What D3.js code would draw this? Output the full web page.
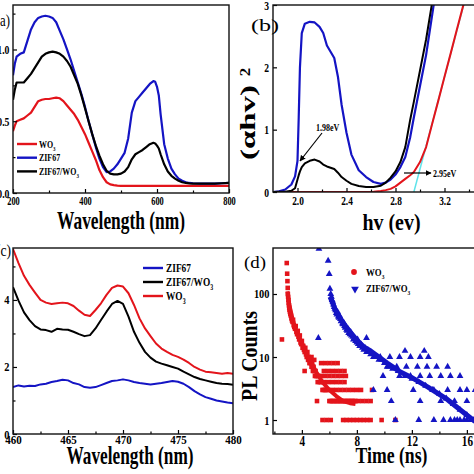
<!DOCTYPE html>
<html><head><meta charset="utf-8">
<script src="https://cdn.jsdelivr.net/npm/d3@7"></script>
<style>body{margin:0;background:#fff}svg{display:block}</style>
</head><body><svg id="chart" width="474" height="474"></svg>
<script>
// ---------- Panel (a): UV-vis absorbance ----------
const aWavelength = [200,205,210,220,230,240,250,260,270,280,290,300,310,320,330,340,350,360,370,380,390,400,410,420,430,440,450,460,470,480,490,500,510,520,530,540,550,560,570,580,590,595,600,605,610,620,630,640,650,660,670,680,690,700,720,740,760,780,800];
const aZIF67 = [0.82,0.9,0.95,0.97,0.98,1.06,1.14,1.19,1.22,1.23,1.235,1.23,1.22,1.19,1.13,1.07,1.0,0.93,0.85,0.77,0.69,0.6,0.5,0.41,0.32,0.24,0.18,0.145,0.15,0.17,0.2,0.24,0.28,0.38,0.56,0.64,0.67,0.7,0.73,0.76,0.78,0.775,0.74,0.68,0.55,0.34,0.24,0.17,0.13,0.1,0.085,0.075,0.07,0.068,0.066,0.066,0.066,0.068,0.07];
const aComposite = [0.65,0.72,0.77,0.77,0.77,0.8,0.83,0.87,0.91,0.95,0.97,0.98,0.985,0.98,0.97,0.95,0.92,0.88,0.82,0.76,0.68,0.59,0.5,0.41,0.33,0.26,0.2,0.155,0.135,0.13,0.13,0.135,0.15,0.18,0.235,0.27,0.285,0.3,0.32,0.34,0.35,0.345,0.33,0.31,0.27,0.2,0.15,0.12,0.1,0.085,0.075,0.07,0.067,0.065,0.065,0.065,0.066,0.068,0.07];
const aWO3 = [0.43,0.47,0.5,0.51,0.52,0.54,0.56,0.6,0.64,0.65,0.655,0.655,0.66,0.665,0.66,0.64,0.61,0.58,0.55,0.51,0.46,0.41,0.35,0.29,0.23,0.16,0.11,0.075,0.06,0.055,0.052,0.05,0.05,0.05,0.05,0.05,0.05,0.05,0.05,0.05,0.05,0.05,0.05,0.05,0.05,0.05,0.05,0.05,0.05,0.05,0.05,0.05,0.05,0.05,0.05,0.05,0.05,0.05,0.05];
const aXTicks = [200,400,600,800];
const aXMinor = [300,500,700];
const aYTicks = [0,0.5,1.0];
const aYMinor = [0.25,0.75,1.25];

// ---------- Panel (b): Tauc plot ----------
const bEnergy = [1.80,1.85,1.90,1.95,1.98,2.00,2.01,2.02,2.035,2.06,2.10,2.14,2.18,2.21,2.24,2.27,2.30,2.33,2.36,2.40,2.44,2.50,2.56,2.62,2.68,2.72,2.76,2.80,2.84,2.88,2.92,2.95,3.00,3.05,3.10,3.15,3.20,3.25,3.30,3.35,3.40];
const bZIF67 = [0,0.01,0.04,0.12,0.25,0.5,1.2,2.0,2.55,2.7,2.73,2.72,2.65,2.55,2.35,2.25,2.15,1.85,1.4,0.95,0.6,0.35,0.24,0.16,0.13,0.15,0.2,0.28,0.4,0.56,0.88,1.2,1.7,2.2,2.85,3.5,4,4,4,4,4];
const bComposite = [0,0.003,0.006,0.02,0.06,0.2,0.27,0.33,0.4,0.46,0.5,0.52,0.49,0.44,0.41,0.39,0.37,0.31,0.24,0.18,0.13,0.095,0.08,0.08,0.1,0.15,0.23,0.33,0.48,0.72,1.16,1.45,1.95,2.45,3.05,3.6,4,4,4,4,4];
const bWO3 = [0,0,0,0,0,0,0,0,0,0,0,0,0,0,0,0,0,0,0,0,0,0,0,0.005,0.015,0.03,0.05,0.09,0.15,0.21,0.27,0.32,0.48,0.72,1.1,1.47,1.85,2.22,2.6,2.97,3.35];
const bTangentE = [2.95,3.37];
const bTangentV = [0,3.1];
const bXTicks = [2.0,2.4,2.8,3.2];
const bXMinor = [2.2,2.6,3.0,3.4];
const bYTicks = [0,1,2,3];

// ---------- Panel (c): PL spectra ----------
const cWavelength = [460,460.5,461,461.5,462,462.5,463,463.5,464,464.5,465,465.5,466,466.5,467,467.5,468,468.5,469,469.5,470,470.5,471,471.5,472,472.5,473,473.5,474,474.5,475,475.5,476,476.5,477,477.5,478,478.5,479,479.5,480];
const cWO3 = [5.52,5.1,4.72,4.45,4.22,4.0,3.92,3.88,3.9,3.92,3.9,3.82,3.68,3.56,3.52,3.7,3.9,4.15,4.36,4.43,4.4,4.2,3.85,3.45,3.15,2.92,2.7,2.55,2.45,2.36,2.3,2.22,2.12,2.0,1.92,1.86,1.84,1.82,1.8,1.82,1.8];
const cComposite = [4.38,3.98,3.63,3.4,3.22,3.12,3.1,3.05,3.14,3.12,3.11,3.05,2.98,2.92,2.95,3.15,3.4,3.65,3.88,3.97,3.88,3.5,3.05,2.72,2.45,2.28,2.16,2.1,2.05,2.0,1.95,1.86,1.78,1.7,1.64,1.6,1.56,1.52,1.5,1.49,1.47];
const cZIF67 = [1.4,1.45,1.42,1.44,1.43,1.48,1.5,1.55,1.58,1.62,1.6,1.52,1.48,1.4,1.38,1.4,1.46,1.52,1.58,1.6,1.63,1.6,1.55,1.52,1.5,1.48,1.5,1.52,1.55,1.58,1.56,1.5,1.4,1.28,1.18,1.1,1.05,1.0,0.97,0.94,0.92];
const cXTicks = [460,465,470,475,480];
const cXMinor = [462.5,467.5,472.5,477.5];
const cYTicks = [0,2,4];
const cYMinor = [1,3,5];

// ---------- Panel (d): TRPL decay ----------
const dWO3Time = [2.55,2.9,2.93,2.95,2.97,2.98,3.0,3.02,3.04,3.06,3.08,3.1,3.13,3.16,3.2,3.24,3.28,3.32,3.36,3.4,3.45,3.5,3.55,3.6,3.65,3.7,3.75,3.8,3.85,3.9,3.95,4.0,4.05,4.1,4.15,4.2,4.25,4.3,4.35,4.4,4.45,4.5,4.55,4.6,4.65,4.7,4.75,4.8,4.85,4.9,4.95,5.0,5.05,5.1,5.15,5.2,5.3,5.4,5.5,5.6,5.7,5.8,5.9,6.0,6.1,6.2,6.3,6.4,6.5,6.6,6.7,6.8,6.9,7.0,7.1,7.2,7.3,7.4,7.5,7.6,7.7,7.8,7.9,
  4.7,4.9,5.4,5.7,6.0,6.3,6.6,
  4.2,5.6,5.9,6.2,6.5,6.8,7.1,
  5.4,5.7,6.0,6.3,6.6,6.9,7.2,
  5.6,5.9,6.2,6.5,6.8,7.1,
  6.2,6.5,6.8,7.1,7.4,7.7,8.0,8.3,9.1,
  5.1,8.1,8.4,8.7,9.0,
  5.5,5.8,6.1,7.0,7.25,7.5,7.75,8.0,8.25,8.5,8.75,9.0,9.8,10.8];
const dWO3Counts = [19,310,210,160,125,100,90,80,72,66,60,56,52,48,45,41,38,36,39,32,30,28,31,25,23,26,21,19,22,17,16,18,14,15,13,12,14,11,10,12,9,10,8,9,8,7,8,6,7,6,5,6,5,5,4,5,4,4,3,3,3,3,3,2,2,2,2,2,2,2,2,2,2,2,2,2,2,2,2,2,2,2,2,
  10,9,8,8,8,8,8,
  6,6,6,6,6,6,6,
  5,5,5,5,5,5,5,
  4,4,4,4,4,4,
  3,3,3,3,3,3,3,3,3,
  2,2,2,2,2,
  1,1,1,1,1,1,1,1,1,1,1,1,1,1];
const dCompTime = [5.24,5.91,5.99,6.04,6.1,6.15,6.2,6.25,6.3,6.35,6.4,6.45,6.5,6.55,6.6,6.65,6.7,6.75,6.8,6.85,6.9,6.95,7.0,7.05,7.1,7.15,7.2,7.25,7.3,7.35,7.4,7.5,7.55,7.6,7.7,7.75,7.8,7.9,8.0,8.05,8.1,8.2,8.3,8.4,8.5,8.6,8.7,8.8,8.9,9.0,9.2,9.4,9.6,9.8,10.0,10.3,10.6,11.0,11.5,12.0,12.5,13.0,13.5,14.0,14.5,15.0,15.5,16.0,16.5,
  5.2,8.7,11.5,12.9,
  9.7,10.4,11.1,11.9,12.6,13.2,
  10.2,10.9,11.6,12.4,13.1,13.8,14.6,
  9.9,11.1,11.9,12.6,13.3,14.1,14.8,15.5,
  9.2,10.2,12.1,13.6,14.6,15.5,16.0,16.6,
  10.5,12.6,14.1,15.1,16.0,
  10.8,12.5,13.6,14.3,14.8,15.1,15.3,15.5,15.8,16.0,16.3];
const dCompCounts = [520,337,208,121,100,90,80,75,68,62,58,55,50,47,52,44,42,45,40,37,38,34,33,35,31,29,30,27,26,28,24,23,25,22,21,19,20,18,17,19,16,15,16,14,13,14,12,13,12,11,10,10,9,9,8,7,6.5,6,5,4.5,4,3.5,3,2.6,2.2,1.8,1.45,1.2,1.0,
  20,20,12.5,12.5,
  10,10,10,10,10,10,
  7,7,7,7,7,7,7,
  5,5,5,5,5,5,5,5,
  3,3,3,3,3,3,3,3,
  2,2,2,2,2,
  1,1,1,1,1,1,1,1,1,1,1];
const dWO3FitTime = [2.95,3.1,3.3,3.5,3.8,4.0,4.3,4.6,5.0,5.5,6.0,6.5,7.0,7.5,7.9];
const dWO3FitCounts = [110,65,42,30,21,17,12,9,6,4,3,2.4,2.0,1.85,1.8];
const dCompFitTime = [6.05,6.5,7.0,7.5,8.0,8.5,9.0,9.6,10.2,11.1,12.0,13.2,14.6,15.6,16.6];
const dCompFitCounts = [90,52,35,25,18.5,14.5,12.5,10,8,5.9,4.7,3.3,2.1,1.4,0.95];
const dXTicks = [4,8,12,16];
const dXMinor = [2,6,10,14];
const dYTicks = [1,10,100];

// ---------- drawing ----------
const RED = '#e3141b', BLUE = '#1414c4', BLACK = '#000', CYAN = '#5fe3ea';
const FONT = "'Liberation Serif','Times New Roman',serif";
const svg = d3.select('#chart');
svg.append('rect').attr('width',474).attr('height',474).attr('fill','#fff');
const defs = svg.append('defs');
defs.append('marker').attr('id','arr').attr('viewBox','0 0 10 10').attr('refX',9).attr('refY',5)
  .attr('markerWidth',5).attr('markerHeight',5).attr('orient','auto-start-reverse')
  .append('path').attr('d','M0,0L10,5L0,10z').attr('fill','#000');

function txt(p, x, y, segs, o = {}) {
  const size = o.size || 12, sx = o.sx || 0.75;
  let tr = `translate(${x},${y}) scale(${sx},1)`;
  if (o.rot) tr += ` rotate(${o.rot})`;
  const t = p.append('text').attr('transform', tr)
    .attr('font-family', FONT).attr('font-size', size)
    .attr('font-weight', o.weight || 'bold').attr('text-anchor', o.anchor || 'start')
    .attr('fill', o.fill || '#000');
  if (typeof segs === 'string') segs = [[segs, '']];
  let shift = 0;
  segs.forEach(([s, k]) => {
    const ts = t.append('tspan').text(s);
    const target = k === 'sub' ? size * 0.3 : k === 'sup' ? -size * 0.45 : 0;
    if (target - shift !== 0) ts.attr('dy', target - shift);
    shift = target;
    if (k) ts.attr('font-size', size * 0.62);
  });
  if (o.len) t.attr('textLength', o.rot ? o.len : o.len / sx).attr('lengthAdjust', 'spacingAndGlyphs');
  return t;
}

function panel(id, x, y, xTicks, xMinor, yTicks, yMinor, fmtX, fmtY, st) {
  const [x0, x1] = x.range(), [y0, y1] = y.range();
  const g = svg.append('g');
  defs.append('clipPath').attr('id', 'clip' + id).append('rect')
    .attr('x', x0).attr('y', y1).attr('width', x1 - x0).attr('height', y0 - y1);
  const plot = g.append('g').attr('clip-path', `url(#clip${id})`);
  const xa = g.append('g').attr('transform', `translate(0,${y0})`)
    .call(d3.axisBottom(x).tickValues(xTicks).tickSize(-4).tickFormat(fmtX));
  const xm = g.append('g').attr('transform', `translate(0,${y0})`)
    .call(d3.axisBottom(x).tickValues(xMinor).tickSize(-2.5).tickFormat(''));
  const ya = g.append('g').attr('transform', `translate(${x0},0)`)
    .call(d3.axisLeft(y).tickValues(yTicks).tickSize(-4).tickFormat(fmtY));
  const ym = g.append('g').attr('transform', `translate(${x0},0)`)
    .call(d3.axisLeft(y).tickValues(yMinor).tickSize(-2.5).tickFormat(''));
  [xa, xm, ya, ym].forEach(a => { a.select('.domain').remove(); a.selectAll('line').attr('stroke', '#000').attr('stroke-width', 1.2); });
  xa.selectAll('text').attr('x', null).attr('y', null).attr('dy', null)
    .attr('transform', `translate(0,${st.xdy}) scale(${st.xsx},1)`)
    .attr('font-family', FONT).attr('font-weight', 'bold').attr('font-size', st.xsize).attr('fill', '#000');
  ya.selectAll('text').attr('x', null).attr('y', null).attr('dy', null)
    .attr('transform', `translate(${-st.ydx},${st.ydy}) scale(${st.ysx},1)`)
    .attr('font-family', FONT).attr('font-weight', 'bold').attr('font-size', st.ysize).attr('fill', '#000');
  g.append('rect').attr('x', x0).attr('y', y1).attr('width', x1 - x0).attr('height', y0 - y1)
    .attr('fill', 'none').attr('stroke', '#111').attr('stroke-width', 1.4);
  return { g, plot };
}

function drawLine(plot, xs, ys, x, y, color, w) {
  plot.append('path').datum(xs.map((v, i) => [v, ys[i]]))
    .attr('d', d3.line().x(d => x(d[0])).y(d => y(d[1])))
    .attr('fill', 'none').attr('stroke', color).attr('stroke-width', w).attr('stroke-linejoin', 'round');
}

// ----- (a)
{
  const x = d3.scaleLinear().domain([200, 800]).range([13, 229]);
  const y = d3.scaleLinear().domain([0, 1.31]).range([193, 5]);
  const { g, plot } = panel('a', x, y, aXTicks, aXMinor, aYTicks, aYMinor, d3.format('d'), d3.format('.1f'),
    { xdy: 12, xsx: 0.7, xsize: 12, ydx: 3.5, ydy: 4, ysx: 0.75, ysize: 13 });
  drawLine(plot, aWavelength, aWO3, x, y, RED, 2.2);
  drawLine(plot, aWavelength, aZIF67, x, y, BLUE, 2.2);
  drawLine(plot, aWavelength, aComposite, x, y, BLACK, 2.2);
  const leg = [[RED, [[' WO', ''], ['3', 'sub']]], [BLUE, 'ZIF67'], [BLACK, [['ZIF67/WO', ''], ['3', 'sub']]]];
  leg.forEach((l, i) => {
    const ly = 144 + i * 13.7;
    g.append('line').attr('x1', 17).attr('x2', 37).attr('y1', ly).attr('y2', ly).attr('stroke', l[0]).attr('stroke-width', 2.4);
    txt(g, 39, ly + 3.5, l[1], { size: 11, sx: 0.72 });
  });
  txt(g, 121, 229, 'Wavelength (nm)', { size: 25, sx: 0.7, anchor: 'middle', len: 128 });
  txt(g, 10, 26, '(a)', { size: 17, sx: 0.75, anchor: 'end', weight: 'normal' });
}

// ----- (b)
{
  const x = d3.scaleLinear().domain([1.8, 3.5]).range([273, 481.25]);
  const y = d3.scaleLinear().domain([0, 3]).range([192, 5]);
  const { g, plot } = panel('b', x, y, bXTicks, bXMinor, bYTicks, [], d3.format('.1f'), d3.format('d'),
    { xdy: 13, xsx: 0.78, xsize: 12, ydx: 4, ydy: 4, ysx: 0.8, ysize: 12 });
  drawLine(plot, bTangentE, bTangentV, x, y, CYAN, 1.5);
  drawLine(plot, bEnergy, bWO3, x, y, RED, 2);
  drawLine(plot, bEnergy, bZIF67, x, y, BLUE, 2.2);
  drawLine(plot, bEnergy, bComposite, x, y, BLACK, 2);
  g.append('line').attr('x1', 322).attr('y1', 133).attr('x2', 300).attr('y2', 161)
    .attr('stroke', '#000').attr('stroke-width', 1.2).attr('marker-end', 'url(#arr)');
  txt(g, 316, 131, '1.98eV', { size: 10, sx: 0.8 });
  g.append('line').attr('x1', 404).attr('y1', 173).attr('x2', 431).attr('y2', 173)
    .attr('stroke', '#000').attr('stroke-width', 1.2).attr('marker-end', 'url(#arr)');
  txt(g, 433, 177, '2.95eV', { size: 10, sx: 0.8 });
  txt(g, 391.5, 230, 'hv (ev)', { size: 23, sx: 0.75, anchor: 'middle', len: 58 });
  txt(g, 255, 122.5, '(αhv)', { size: 26, sx: 0.8, anchor: 'middle', rot: -90, len: 75 });
  txt(g, 250, 72, '2', { size: 17, sx: 0.8, anchor: 'middle', rot: -90 });
  txt(g, 251, 31, '(b)', { size: 17, sx: 1, weight: 'normal', len: 28 });
}

// ----- (c)
{
  const x = d3.scaleLinear().domain([460, 480]).range([13, 233]);
  const y = d3.scaleLinear().domain([0, 5.55]).range([434, 248]);
  const { g, plot } = panel('c', x, y, cXTicks, cXMinor, cYTicks, cYMinor, d3.format('d'), d3.format('d'),
    { xdy: 10, xsx: 0.88, xsize: 12.5, ydx: 3.5, ydy: 4, ysx: 0.8, ysize: 13 });
  drawLine(plot, cWavelength, cZIF67, x, y, BLUE, 2);
  drawLine(plot, cWavelength, cComposite, x, y, BLACK, 2);
  drawLine(plot, cWavelength, cWO3, x, y, RED, 2);
  const leg = [[BLUE, 'ZIF67'], [BLACK, [['ZIF67/WO', ''], ['3', 'sub']]], [RED, [['WO', ''], ['3', 'sub']]]];
  leg.forEach((l, i) => {
    const ly = 268 + i * 14;
    g.append('line').attr('x1', 143).attr('x2', 163).attr('y1', ly).attr('y2', ly).attr('stroke', l[0]).attr('stroke-width', 2.4);
    txt(g, 166, ly + 4, l[1], { size: 12, sx: 0.78 });
  });
  txt(g, 130, 464, 'Wavelength (nm)', { size: 25, sx: 0.7, anchor: 'middle', len: 127 });
  txt(g, 11, 256, '(c)', { size: 17, sx: 0.8, anchor: 'end', weight: 'normal' });
}

// ----- (d)
{
  const x = d3.scaleLinear().domain([1.9, 17.1]).range([273, 482]);
  const y = d3.scaleLog().domain([0.6, 537]).range([434, 248]);
  const { g, plot } = panel('d', x, y, dXTicks, dXMinor, dYTicks, [], d3.format('d'), d3.format('d'),
    { xdy: 11.5, xsx: 0.8, xsize: 14, ydx: 3.5, ydy: 4, ysx: 0.8, ysize: 13 });
  const sq = d3.symbol(d3.symbolSquare, 21)();
  const tri = d3.symbol(d3.symbolTriangle, 20)();
  plot.append('g').selectAll('path').data(dWO3Time.map((t, i) => [t, dWO3Counts[i]])).join('path')
    .attr('d', sq).attr('transform', d => `translate(${x(d[0])},${y(d[1])})`).attr('fill', RED);
  plot.append('g').selectAll('path').data(dCompTime.map((t, i) => [t, dCompCounts[i]])).join('path')
    .attr('d', tri).attr('transform', d => `translate(${x(d[0])},${y(d[1])})`).attr('fill', BLUE);
  drawLine(plot, dWO3FitTime, dWO3FitCounts, x, y, RED, 4);
  drawLine(plot, dCompFitTime, dCompFitCounts, x, y, BLUE, 5);
  g.append('path').attr('d', d3.symbol(d3.symbolCircle, 26)()).attr('transform', 'translate(354,272)').attr('fill', RED);
  g.append('path').attr('d', d3.symbol(d3.symbolTriangle, 26)()).attr('transform', 'translate(355,289) rotate(180)').attr('fill', BLUE);
  txt(g, 366, 276, [['WO', ''], ['3', 'sub']], { size: 11, sx: 0.8 });
  txt(g, 366, 292, [['ZIF67/WO', ''], ['3', 'sub']], { size: 11, sx: 0.8 });
  txt(g, 391.5, 463, 'Time (ns)', { size: 23, sx: 0.75, anchor: 'middle', len: 72 });
  txt(g, 257, 356, 'PL Counts', { size: 23, sx: 1, anchor: 'middle', rot: -90, len: 90 });
  txt(g, 244, 268, '(d)', { size: 17, sx: 1, weight: 'normal', len: 22 });
}
</script></body></html>
